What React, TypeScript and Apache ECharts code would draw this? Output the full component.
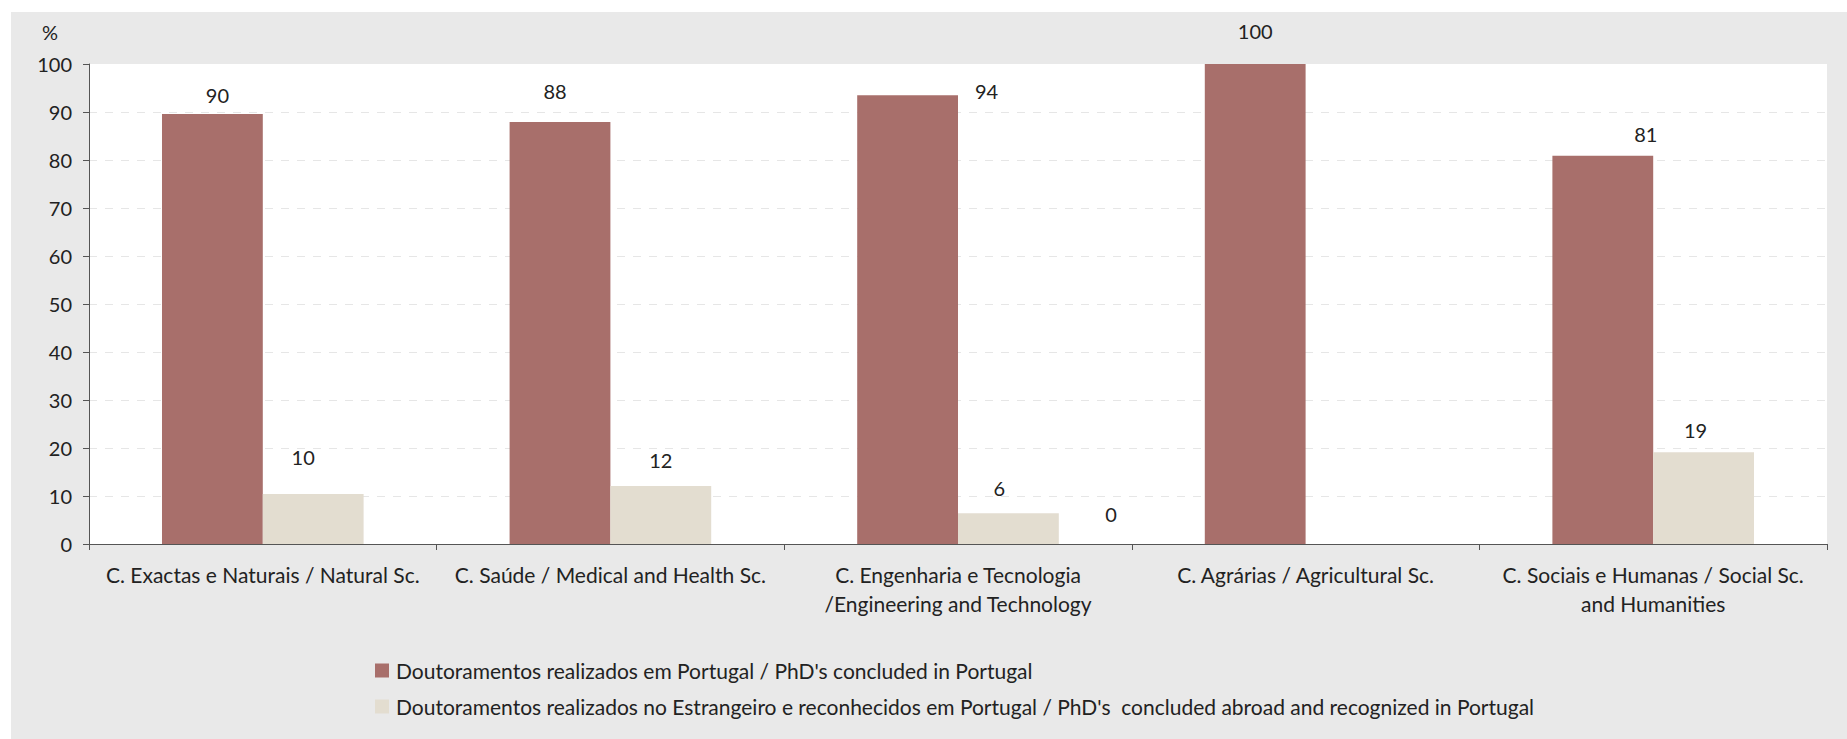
import React, { useEffect, useRef } from "react";
import * as echarts from "echarts";

const categories = [
  "C. Exactas e Naturais / Natural Sc.",
  "C. Saúde / Medical and Health Sc.",
  "C. Engenharia e Tecnologia\n/Engineering and Technology",
  "C. Agrárias / Agricultural Sc.",
  "C. Sociais e Humanas / Social Sc.\nand Humanities",
];
const seriesNames = [
  "Doutoramentos realizados em Portugal / PhD's concluded in Portugal",
  "Doutoramentos realizados no Estrangeiro e reconhecidos em Portugal / PhD's  concluded abroad and recognized in Portugal",
];
const portugal = [89.6, 87.9, 93.5, 100, 80.9];
const abroad = [10.4, 12.1, 6.4, 0, 19.1];
const yTicks = [0, 10, 20, 30, 40, 50, 60, 70, 80, 90, 100];

// label nudges (style only), [dx, dy] from the default "top" position
const labelNudge1 = [[5, -4], [-5, -16], [79, 11], [0, -18], [43, -7]];
const labelNudge2 = [[-10, -22], [0, -11], [-9, -10], [-245, -15], [-8, -7]];

const FONT = "Lato";
const TEXT = "#222222";

export default function App() {
  const ref = useRef<HTMLDivElement>(null);
  useEffect(() => {
    if (!ref.current) return;
    const chart = echarts.init(ref.current, undefined, { renderer: "svg" });
    const mk = (vals: number[], nudges: number[][]) =>
      vals.map((v, i) => ({
        value: v,
        label: { offset: nudges[i] },
      }));
    const labelStyle = {
      show: true,
      position: "top",
      distance: 5,
      fontFamily: FONT,
      fontSize: 20,
      color: TEXT,
      formatter: (p: any) => (p.value as number).toFixed(0),
    };
    chart.setOption({
      animation: false,
      textStyle: { fontFamily: FONT, color: TEXT },
      grid: {
        left: 89,
        top: 64,
        width: 1738,
        height: 480,
        show: true,
        backgroundColor: "#ffffff",
        borderWidth: 0,
      },
      legend: {
        orient: "vertical",
        left: 370,
        top: 655,
        padding: 5,
        itemWidth: 14,
        itemHeight: 14,
        itemGap: 15,
        icon: "rect",
        textStyle: { fontFamily: FONT, fontSize: 21, color: TEXT, lineHeight: 21, padding: [0, 0, 0, 2] },
        data: seriesNames,
      },
      xAxis: {
        type: "category",
        data: categories,
        axisLine: { lineStyle: { color: "#555555", width: 1 } },
        axisTick: { show: true, length: 6, lineStyle: { color: "#555555" } },
        axisLabel: {
          interval: 0,
          fontFamily: FONT,
          fontSize: 21,
          color: TEXT,
          lineHeight: 29,
          margin: 16,
        },
      },
      yAxis: {
        type: "value",
        min: yTicks[0],
        max: yTicks[yTicks.length - 1],
        interval: 10,
        name: "%",
        nameLocation: "end",
        nameGap: 22,
        nameTextStyle: { fontFamily: FONT, fontSize: 20, color: TEXT, align: "right", padding: [0, 31, 0, 0] },
        axisLine: { show: true, lineStyle: { color: "#555555", width: 1 } },
        axisTick: { show: true, length: 6, lineStyle: { color: "#555555" } },
        axisLabel: { fontFamily: FONT, fontSize: 20, color: TEXT, margin: 17 },
        splitLine: {
          show: true,
          showMaxLine: false,
          lineStyle: { color: "#E6E6E6", type: [8, 8], width: 1 },
        },
      },
      series: [
        {
          name: seriesNames[0],
          type: "bar",
          data: mk(portugal, labelNudge1),
          itemStyle: { color: "#A86F6B" },
          barGap: "0%",
          barCategoryGap: "42%",
          label: labelStyle,
        },
        {
          name: seriesNames[1],
          type: "bar",
          data: mk(abroad, labelNudge2),
          itemStyle: { color: "#E3DDD0" },
          barGap: "0%",
          barCategoryGap: "42%",
          label: labelStyle,
        },
      ],
    });
    return () => chart.dispose();
  }, []);
  return (
    <div style={{ position: "absolute", left: 0, top: 0, width: 1847, height: 739, background: "#ffffff" }}>
      <div style={{ position: "absolute", left: 11, top: 12, right: 0, bottom: 0, background: "#E9E9E9" }} />
      <div ref={ref} style={{ position: "absolute", left: 0, top: 0, width: 1847, height: 739 }} />
    </div>
  );
}
